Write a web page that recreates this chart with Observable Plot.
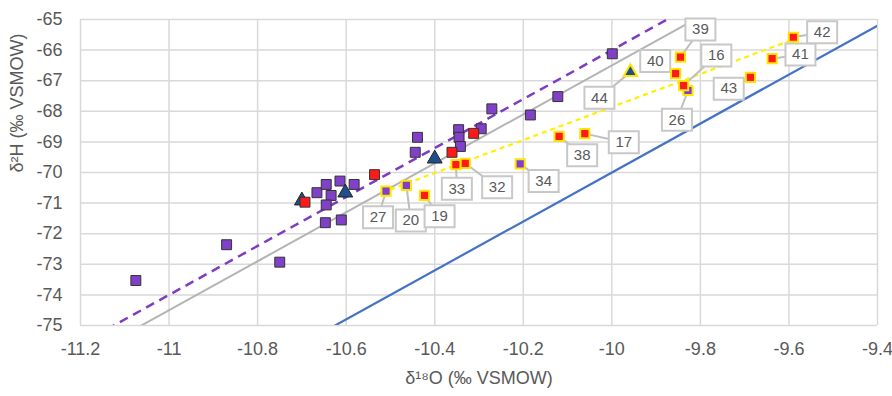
<!DOCTYPE html>
<html><head><meta charset="utf-8">
<script src="https://cdn.jsdelivr.net/npm/d3@7"></script>
<script src="https://cdn.jsdelivr.net/npm/@observablehq/plot@0.6"></script>
<style>body{margin:0;background:#fff}</style>
</head><body><div id="chart"></div>
<script>
// ---- data ----
const xTicks = [-11.2, -11, -10.8, -10.6, -10.4, -10.2, -10, -9.8, -9.6, -9.4];
const yTicks = [-75, -74, -73, -72, -71, -70, -69, -68, -67, -66, -65];
const xTitle = "δ¹⁸O (‰ VSMOW)";
const yTitle = "δ²H (‰ VSMOW)";

// unlabelled samples
const purpleX = [-11.075, -10.87, -10.75, -10.647, -10.611, -10.666, -10.645, -10.634, -10.645, -10.614, -10.582, -10.439, -10.444, -10.346, -10.345, -10.342, -10.295, -10.271, -10.184, -10.122, -9.999];
const purpleY = [-73.53, -72.36, -72.93, -71.64, -71.55, -70.66, -70.39, -70.75, -71.06, -70.28, -70.39, -68.85, -69.34, -68.60, -68.85, -69.15, -68.57, -67.92, -68.12, -67.52, -66.12];
const redX = [-10.693, -10.536, -10.312, -10.361];
const redY = [-70.97, -70.07, -68.72, -69.34];
const triX = [-10.700, -10.602, -10.40];
const triY = [-70.92, -70.66, -69.55];

// labelled samples (callouts)
const labId   = ["27", "20", "34", "26", "19", "33", "32", "38", "17", "39", "40", "16", "43", "41", "42", "44"];
const labType = ["purple", "purple", "purple", "purple", "red", "red", "red", "red", "red", "red", "red", "red", "red", "red", "red", "tri"];
const labX    = [-10.510, -10.464, -10.207, -9.828, -10.423, -10.352, -10.331, -10.119, -10.061, -9.845, -9.856, -9.838, -9.687, -9.638, -9.590, -9.958];
const labY    = [-70.61, -70.42, -69.72, -67.32, -70.75, -69.74, -69.70, -68.82, -68.73, -66.23, -66.77, -67.16, -66.89, -66.28, -65.58, -66.72];
const labBoxX = [-10.528, -10.454, -10.154, -9.853, -10.389, -10.350, -10.259, -10.067, -9.973, -9.800, -9.902, -9.764, -9.736, -9.574, -9.525, -10.028];
const labBoxY = [-71.46, -71.57, -70.28, -68.28, -71.43, -70.53, -70.48, -69.44, -69.01, -65.33, -66.36, -66.18, -67.26, -66.14, -65.42, -67.56];

// reference / fitted lines: δ2H = slope * δ18O + intercept
const lineNames = ["GMWL", "grey", "purple", "yellow"];
const lineSlopes = [8, 8, 8, 5.39];
const lineIntercepts = [10, 13.5, 14, -13.96];
const lineXStart = [-11.2, -11.2, -11.2, -10.52];
const lineXEnd = [-9.4, -9.4, -9.4, -9.59];

// ---- build tables ----
const pts = (X, Y) => X.map((x, i) => ({x, y: Y[i]}));
const purple = pts(purpleX, purpleY);
const red = pts(redX, redY);
const tri = pts(triX, triY);
const labels = labId.map((id, i) => ({id, type: labType[i], x: labX[i], y: labY[i], lx: labBoxX[i], ly: labBoxY[i]}));
const lines = lineNames.map((name, i) => ({
  name,
  x1: lineXStart[i], y1: lineSlopes[i] * lineXStart[i] + lineIntercepts[i],
  x2: lineXEnd[i], y2: lineSlopes[i] * lineXEnd[i] + lineIntercepts[i]
}));
const lineStyle = {
  GMWL: {stroke: "#4472c4", strokeWidth: 2.2},
  grey: {stroke: "#b4b4b4", strokeWidth: 2},
  purple: {stroke: "#7e3cc0", strokeWidth: 2.5, strokeDasharray: "9,6"},
  yellow: {stroke: "#fff000", strokeWidth: 2.2, strokeDasharray: "5,4"}
};

const boxSymbol = {draw(ctx) { ctx.rect(-15, -11, 30, 22); }};
const font = "'Liberation Sans Narrow', 'Liberation Sans', Arial, sans-serif";
const txt = "#595959";
const PURPLE = "#8040c8", RED = "#ff1a1a", NAVY = "#1f4e8c";

const chart = Plot.plot({
  width: 892, height: 396,
  marginTop: 19, marginBottom: 71, marginLeft: 80, marginRight: 15,
  x: {domain: [-11.2, -9.4]},
  y: {domain: [-75, -65]},
  style: {fontFamily: font, background: "white"},
  marks: [
    Plot.gridX(xTicks, {stroke: "#d9d9d9", strokeOpacity: 1, strokeWidth: 1.5}),
    Plot.gridY(yTicks, {stroke: "#d9d9d9", strokeOpacity: 1, strokeWidth: 1.5}),
    Plot.axisX(xTicks, {tickSize: 0, tickPadding: 17, tickFormat: d => String(d), fontSize: 18, color: txt, label: null}),
    Plot.axisY(yTicks, {tickSize: 0, tickPadding: 18, tickFormat: d => String(d), fontSize: 18, color: txt, label: null}),
    Plot.text([xTitle], {frameAnchor: "bottom", dy: 58, fontSize: 18, fill: txt, text: d => d}),
    Plot.text([yTitle], {frameAnchor: "left", dx: -63, rotate: -90, fontSize: 18, fill: txt, text: d => d}),
    ...lines.map(l => Plot.link([l], {x1: "x1", y1: "y1", x2: "x2", y2: "y2", clip: true, ...lineStyle[l.name]})),
    Plot.link(labels, {x1: "lx", y1: "ly", x2: "x", y2: "y", stroke: "#bfbfbf", strokeWidth: 2}),
    Plot.dot(labels, {x: "lx", y: "ly", symbol: boxSymbol, fill: "white", stroke: "#c8c8c8", strokeWidth: 2}),
    Plot.text(labels, {x: "lx", y: "ly", text: "id", fontSize: 15, fill: txt}),
    Plot.dot(purple, {x: "x", y: "y", symbol: "square", r: 5.6, fill: PURPLE, stroke: "#333", strokeWidth: 1}),
    Plot.dot(tri, {x: "x", y: "y", symbol: "triangle", r: 5.5, fill: NAVY, stroke: "#222", strokeWidth: 1}),
    Plot.dot(red, {x: "x", y: "y", symbol: "square", r: 5.6, fill: RED, stroke: "#333", strokeWidth: 1}),
    Plot.dot(labels.filter(d => d.type === "purple"), {x: "x", y: "y", symbol: "square", r: 5.2, fill: PURPLE, stroke: "#ffe600", strokeWidth: 2}),
    Plot.dot(labels.filter(d => d.type === "red"), {x: "x", y: "y", symbol: "square", r: 5.2, fill: RED, stroke: "#ffe600", strokeWidth: 2}),
    Plot.dot(labels.filter(d => d.type === "tri"), {x: "x", y: "y", symbol: "triangle", r: 5, fill: NAVY, stroke: "#ffe600", strokeWidth: 2})
  ]
});
document.getElementById("chart").appendChild(chart);
</script>
</body></html>
